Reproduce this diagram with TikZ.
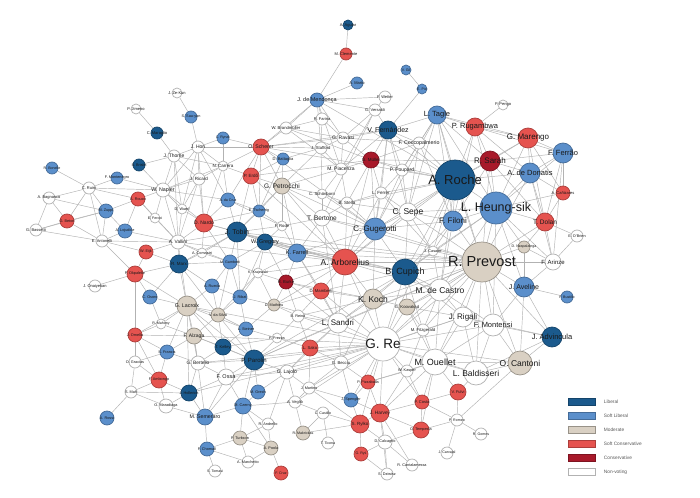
\documentclass[tikz,border=0pt]{standalone}
\usepackage{fontspec}
\setmainfont{Liberation Sans}

\definecolor{libc}{HTML}{1B5A8D}
\definecolor{slibc}{HTML}{5B8FCB}
\definecolor{modc}{HTML}{D9D0C3}
\definecolor{sconc}{HTML}{E5534F}
\definecolor{conc}{HTML}{A8192A}
\definecolor{linkc}{HTML}{B2B2B2}

\pgfdeclarelayer{background}
\pgfdeclarelayer{front}
\pgfsetlayers{background,main,front}

\tikzset{
    vtx/.style={circle, inner sep=0pt, line width=0.7pt},
    liberal/.style={vtx, fill=libc, draw=libc!75!black},
    softlib/.style={vtx, fill=slibc, draw=slibc!75!black},
    moderate/.style={vtx, fill=modc, draw=modc!70!black},
    softcon/.style={vtx, fill=sconc, draw=sconc!75!black},
    conserv/.style={vtx, fill=conc, draw=conc!75!black},
    nonvote/.style={vtx, fill=white, draw=black!30},
    lbl/.style={inner sep=0pt, text=black!90},
    link/.style={draw=linkc, line width=0.45pt},
}

% name, x, y, class, diameter, font size, label
\newcommand{\card}[7]{%
    \node[#4, minimum size=#5pt] (#1) at (#2,#3) {};
    \begin{pgfonlayer}{front}
        \node[lbl, font=\fontsize{#6}{#6}\selectfont] (#1t) at (#1) {#7};
    \end{pgfonlayer}}

\begin{document}
\begin{tikzpicture}[x=1pt, y=-1pt]
    \useasboundingbox (0,0) rectangle (700,497);

    % top
    \card{aguiar}{348}{25}{liberal}{10}{4}{A. Aguiar}
    \card{clemente}{346}{54}{softcon}{12}{4}{M. Clemente}
    \card{marto}{357}{83}{softlib}{12}{4}{A. Marto}
    \card{mendonca}{317}{100}{softlib}{14}{5.5}{J. de Mendonça}
    \card{vgil}{406}{70}{softlib}{10}{3.6}{V. Gil}
    \card{epio}{422}{89}{softlib}{10}{3.6}{E. Pio}
    \card{wetter}{385}{97}{nonvote}{12}{4}{F. Wetter}
    \card{versaldi}{375}{110}{nonvote}{12}{4}{G. Versaldi}
    \card{farina}{322}{119}{nonvote}{12}{4}{R. Farina}
    \card{brandmuller}{286}{128}{nonvote}{12}{4.2}{W. Brandmüller}
    \card{vfernandez}{388}{130}{liberal}{18}{7}{V. Fernández}
    \card{tagle}{437}{115}{softlib}{18}{7.5}{L. Tagle}
    \card{pengo}{503}{105}{nonvote}{10}{4}{P. Pengo}
    \card{rugambwa}{475}{127}{softcon}{18}{7.5}{P. Rugambwa}
    \card{marengo}{528}{138}{softcon}{20}{8}{G. Marengo}
    \card{ferrao}{563}{153}{softlib}{20}{7.5}{F. Ferrão}
    \card{sarah}{490}{161}{conserv}{20}{8}{R. Sarah}
    \card{ravasi}{343}{138}{nonvote}{12}{5}{G. Ravasi}
    \card{coccopalmerio}{419}{143}{nonvote}{12}{5.3}{F. Coccopalmerio}
    \card{stafford}{321}{148}{nonvote}{12}{4.2}{J. Stafford}
    \card{scherer}{261}{147}{softcon}{16}{5.2}{O. Scherer}
    \card{battaglia}{283}{159}{softlib}{12}{4}{D. Battaglia}
    \card{muller}{371}{160}{conserv}{16}{4.5}{G. Müller}
    \card{piacenza}{341}{169}{nonvote}{12}{5}{M. Piacenza}
    \card{poupard}{402}{170}{nonvote}{12}{5}{P. Poupard}

    % right hubs
    \card{roche}{455}{180}{liberal}{40}{13}{A. Roche}
    \card{heungsik}{496}{208}{softlib}{32}{12.5}{L. Heung-sik}
    \card{dedonatis}{530}{173}{softlib}{20}{7.5}{A. de Donatis}
    \card{canizares}{563}{193}{softcon}{14}{4}{A. Cañizares}
    \card{dolan}{545}{222}{softcon}{18}{6.5}{T. Dolan}
    \card{obrien}{577}{236}{nonvote}{12}{3.8}{E. O'Brien}
    \card{nzapalainga}{524}{247}{moderate}{12}{3.6}{D. Nzapalainga}
    \card{prevost}{482}{262}{moderate}{40}{14.5}{R. Prevost}
    \card{arinze}{553}{262}{nonvote}{16}{6}{F. Arinze}
    \card{aveline}{524}{287}{softlib}{20}{7}{J. Aveline}
    \card{bustillo}{567}{297}{softlib}{12}{3.6}{F. Bustillo}
    \card{monterisi}{493}{325}{nonvote}{22}{7.5}{F. Monterisi}
    \card{advincula}{552}{337}{liberal}{20}{7.5}{J. Advincula}
    \card{rigali}{463}{317}{nonvote}{20}{8}{J. Rigali}
    \card{cantoni}{520}{363}{moderate}{24}{8.5}{O. Cantoni}
    \card{baldisseri}{476}{373}{nonvote}{24}{8.5}{L. Baldisseri}
    \card{ouellet}{435}{362}{nonvote}{26}{9}{M. Ouellet}
    \card{re}{383}{344}{nonvote}{34}{13.5}{G. Re}
    \card{fitzgerald}{423}{330}{nonvote}{12}{4.2}{M. Fitzgerald}
    \card{decastro}{440}{290}{nonvote}{22}{8.5}{M. de Castro}
    \card{koovakad}{407}{307}{moderate}{16}{4.2}{G. Koovakad}
    \card{koch}{373}{299}{moderate}{20}{8.5}{K. Koch}
    \card{sandri}{338}{323}{nonvote}{20}{8}{L. Sandri}
    \card{cupich}{405}{272}{liberal}{26}{9}{B. Cupich}
    \card{casado}{433}{251}{nonvote}{10}{3.8}{J. Casado}
    \card{arborelius}{345}{262}{softcon}{26}{8.5}{A. Arborelius}
    \card{gugerotti}{375}{229}{softlib}{22}{8}{C. Gugerotti}
    \card{sepe}{408}{212}{nonvote}{18}{8.5}{C. Sepe}
    \card{filoni}{453}{221}{softlib}{20}{8}{F. Filoni}
    \card{bertone}{322}{218}{nonvote}{16}{6.5}{T. Bertone}
    \card{stella}{347}{203}{nonvote}{12}{4.5}{B. Stella}
    \card{ferrer}{381}{193}{nonvote}{12}{4.5}{L. Ferrer}
    \card{schonborn}{322}{194}{nonvote}{10}{4.2}{C. Schönborn}
    \card{petrocchi}{282}{186}{moderate}{16}{6.5}{G. Petrocchi}
    \card{erdo}{251}{176}{softcon}{16}{4.5}{P. Erdő}
    \card{tscherrig}{259}{211}{softlib}{12}{3.8}{E. Tscherrig}
    \card{rode}{282}{226}{nonvote}{10}{4.2}{F. Rodé}
    \card{tobin}{237}{232}{liberal}{20}{7}{J. Tobin}
    \card{gregory}{265}{242}{liberal}{16}{5.5}{W. Gregory}
    \card{farrell}{297}{253}{softlib}{18}{5.5}{K. Farrell}
    \card{krajewski}{258}{273}{nonvote}{10}{3.6}{K. Krajewski}
    \card{burke}{286}{282}{conserv}{14}{4.2}{R. Burke}
    \card{mamberti}{321}{291}{softcon}{16}{4.2}{D. Mamberti}
    \card{mathieu}{274}{305}{moderate}{12}{3.8}{D. Mathieu}
    \card{reina}{298}{316}{nonvote}{12}{3.8}{B. Reina}
    \card{frezza}{277}{338}{nonvote}{10}{3.8}{F. Frezza}

    % bottom centre
    \card{sako}{310}{348}{softcon}{16}{4.2}{L. Sako}
    \card{becciu}{341}{363}{nonvote}{14}{4.2}{G. Becciu}
    \card{kasper}{407}{371}{nonvote}{12}{3.8}{W. Kasper}
    \card{pizzaballa}{368}{382}{softcon}{14}{3.8}{P. Pizzaballa}
    \card{martins}{309}{388}{nonvote}{12}{3.8}{J. Martins}
    \card{vfulvi}{458}{392}{softcon}{16}{4}{V. Fulvi}
    \card{spengler}{351}{400}{softlib}{14}{3.8}{J. Spengler}
    \card{costa}{422}{402}{softcon}{14}{4}{P. Costa}
    \card{veglio}{295}{402}{nonvote}{12}{4}{A. Vegliò}
    \card{harvey}{380}{413}{softcon}{18}{4.8}{J. Harvey}
    \card{castillo}{323}{413}{nonvote}{12}{3.6}{C. Castillo}
    \card{romeo}{457}{420}{nonvote}{12}{3.6}{P. Romeo}
    \card{rylko}{360}{424}{softcon}{18}{4.5}{S. Ryłko}
    \card{tempesta}{421}{430}{softcon}{16}{3.8}{O. Tempesta}
    \card{makrickas}{303}{433}{moderate}{14}{3.6}{R. Makrickas}
    \card{gomes}{481}{434}{nonvote}{12}{3.6}{R. Gomes}
    \card{ticona}{328}{443}{nonvote}{12}{3.6}{T. Ticona}
    \card{calcagno}{385}{442}{nonvote}{14}{3.8}{D. Calcagno}
    \card{carvajal}{447}{453}{nonvote}{12}{3.6}{J. Carvajal}
    \card{rys}{361}{454}{softcon}{14}{3.6}{G. Ryś}
    \card{cantalamessa}{412}{465}{nonvote}{12}{3.8}{R. Cantalamessa}
    \card{dziwisz}{387}{474}{nonvote}{12}{3.8}{S. Dziwisz}

    % left
    \card{zekun}{177}{93}{nonvote}{10}{4}{J. Ze-Kun}
    \card{jimeno}{136}{109}{nonvote}{10}{4}{P. Jimeno}
    \card{sauyan}{191}{117}{softlib}{12}{3.8}{S. Sau-yan}
    \card{maraglio}{157}{133}{liberal}{12}{4}{C. Maraglio}
    \card{rynat}{223}{138}{softlib}{12}{3.6}{L. Rynat}
    \card{hon}{198}{147}{nonvote}{12}{5}{J. Hon}
    \card{thome}{174}{156}{nonvote}{12}{5}{J. Thome}
    \card{bonelle}{52}{168}{softlib}{12}{3.6}{R. Bonelle}
    \card{brislin}{139}{165}{liberal}{12}{3.8}{S. Brislin}
    \card{carrera}{223}{166}{nonvote}{10}{4.5}{N. Carrera}
    \card{ricard}{199}{179}{nonvote}{12}{4.5}{J. Ricard}
    \card{montenegro}{117}{178}{softlib}{12}{3.8}{F. Montenegro}
    \card{ruini}{89}{188}{nonvote}{12}{4}{C. Ruini}
    \card{napier}{163}{190}{nonvote}{14}{5.3}{W. Napier}
    \card{bagnasco}{49}{198}{nonvote}{12}{4}{A. Bagnasco}
    \card{rouco}{138}{199}{softcon}{14}{3.8}{A. Rouco}
    \card{dacruz}{228}{200}{softlib}{14}{3.6}{A. da Cruz}
    \card{zuppi}{106}{211}{softlib}{14}{3.8}{M. Zuppi}
    \card{wuerl}{182}{209}{nonvote}{10}{3.8}{D. Wuerl}
    \card{feroci}{155}{218}{nonvote}{10}{3.6}{E. Feroci}
    \card{betori}{67}{221}{softcon}{14}{3.8}{G. Betori}
    \card{dinardo}{204}{223}{softcon}{18}{5}{D. Nardo}
    \card{bassetti}{36}{230}{nonvote}{12}{4}{G. Bassetti}
    \card{lojudice}{125}{231}{softlib}{14}{3.8}{A. Lojudice}
    \card{antonelli}{102}{241}{nonvote}{12}{4}{E. Antonelli}
    \card{vallini}{178}{242}{nonvote}{14}{4.8}{A. Vallini}
    \card{eijk}{146}{252}{softcon}{14}{3.8}{W. Eijk}
    \card{comastri}{202}{253}{nonvote}{10}{3.8}{A. Comastri}
    \card{marx}{179}{264}{liberal}{18}{4.5}{R. Marx}
    \card{gambetti}{230}{262}{softlib}{14}{3.6}{M. Gambetti}
    \card{okpaleke}{135}{274}{softcon}{16}{3.8}{P. Okpaleke}
    \card{onaiyekan}{95}{286}{nonvote}{12}{4}{J. Onaiyekan}
    \card{rueda}{212}{286}{softlib}{14}{3.8}{A. Rueda}
    \card{osoro}{150}{297}{softlib}{14}{3.8}{C. Osoro}
    \card{ribat}{240}{297}{softlib}{14}{3.8}{J. Ribat}
    \card{lacroix}{187}{306}{moderate}{20}{5.3}{G. Lacroix}
    \card{dasilva}{218}{315}{moderate}{14}{3.8}{V. da Silva}
    \card{mahony}{161}{324}{nonvote}{10}{3.6}{R. Mahony}
    \card{steiner}{246}{329}{softlib}{14}{3.8}{L. Steiner}
    \card{omella}{135}{335}{softcon}{14}{3.8}{J. Omella}
    \card{alzaga}{194}{336}{moderate}{16}{5}{F. Alzaga}
    \card{kelley}{223}{347}{liberal}{16}{4}{T. Kelley}
    \card{francis}{167}{352}{softlib}{14}{3.8}{S. Francis}
    \card{gracias}{135}{362}{nonvote}{12}{3.8}{O. Gracias}
    \card{bertello}{198}{363}{nonvote}{14}{4.8}{G. Bertello}
    \card{parolin}{254}{360}{liberal}{20}{6}{P. Parolin}
    \card{ambongo}{159}{380}{softcon}{16}{3.8}{F. Ambongo}
    \card{ossa}{226}{377}{nonvote}{16}{5.5}{F. Ossa}
    \card{lajolo}{287}{372}{nonvote}{14}{5}{G. Lajolo}
    \card{mafi}{131}{392}{nonvote}{12}{3.8}{S. Mafi}
    \card{hollerich}{189}{393}{liberal}{16}{3.8}{J. Hollerich}
    \card{grech}{258}{392}{softlib}{14}{3.8}{M. Grech}
    \card{maradiaga}{166}{406}{nonvote}{14}{3.8}{O. Maradiaga}
    \card{czerny}{243}{406}{softlib}{16}{3.8}{M. Czerny}
    \card{semeraro}{205}{417}{softlib}{16}{5.3}{M. Semeraro}
    \card{rossi}{107}{418}{softlib}{14}{3.8}{A. Rossi}
    \card{andrello}{268}{424}{nonvote}{12}{3.8}{R. Andrello}
    \card{turkson}{240}{438}{moderate}{14}{3.8}{P. Turkson}
    \card{poola}{271}{448}{moderate}{14}{3.8}{A. Poola}
    \card{chomali}{207}{449}{softlib}{14}{3.8}{F. Chomalí}
    \card{marchetto}{248}{462}{nonvote}{12}{3.8}{A. Marchetto}
    \card{tomasi}{215}{471}{nonvote}{12}{3.6}{S. Tomasi}
    \card{cruz}{281}{473}{softcon}{14}{3.6}{F. Cruz}

    % links
    \begin{pgfonlayer}{background}
        \fill[white] (0,0) rectangle (700,497);
        \foreach \a/\b in {aguiar/clemente, clemente/mendonca, marto/mendonca, mendonca/farina, mendonca/versaldi, mendonca/brandmuller, mendonca/stafford, mendonca/ravasi, mendonca/scherer, mendonca/wetter, mendonca/piacenza, mendonca/roche, vgil/epio, epio/vfernandez, wetter/versaldi, versaldi/ravasi, versaldi/vfernandez, versaldi/piacenza, versaldi/bertone, farina/stafford, farina/ravasi, farina/brandmuller, brandmuller/ravasi, brandmuller/scherer, brandmuller/piacenza, brandmuller/muller, ravasi/stafford, ravasi/muller, ravasi/piacenza, ravasi/coccopalmerio, ravasi/vfernandez, stafford/piacenza, stafford/schonborn, stafford/scherer,
            vfernandez/tagle, vfernandez/muller, vfernandez/coccopalmerio, vfernandez/poupard, vfernandez/ferrer, vfernandez/sepe, vfernandez/roche, vfernandez/gugerotti, vfernandez/piacenza, vfernandez/scherer, tagle/rugambwa, tagle/coccopalmerio, tagle/sepe, tagle/filoni, tagle/roche, tagle/heungsik, tagle/marengo, tagle/sarah, tagle/prevost, tagle/poupard, tagle/gugerotti, pengo/rugambwa, rugambwa/marengo, rugambwa/sarah, rugambwa/ferrao, rugambwa/roche, rugambwa/heungsik, rugambwa/dedonatis, rugambwa/filoni, marengo/ferrao, marengo/sarah, marengo/dedonatis, marengo/roche, marengo/heungsik, marengo/canizares, marengo/dolan, ferrao/dedonatis, ferrao/canizares, ferrao/heungsik, ferrao/sarah, ferrao/dolan, ferrao/arinze, sarah/dedonatis, sarah/dolan, sarah/roche, sarah/heungsik, sarah/filoni, sarah/prevost, dedonatis/canizares, dedonatis/dolan, dedonatis/heungsik, dedonatis/roche, dedonatis/prevost, dedonatis/arinze, canizares/dolan, canizares/heungsik, dolan/obrien, dolan/heungsik, dolan/prevost, dolan/arinze, dolan/nzapalainga, obrien/arinze, arinze/nzapalainga, arinze/aveline, arinze/prevost, arinze/heungsik, aveline/bustillo, aveline/advincula, aveline/monterisi, aveline/prevost, aveline/heungsik, aveline/cantoni, aveline/nzapalainga, advincula/monterisi, advincula/cantoni, advincula/baldisseri, advincula/prevost, advincula/rigali, cantoni/monterisi, cantoni/baldisseri, cantoni/romeo, cantoni/ouellet, cantoni/prevost, baldisseri/monterisi, baldisseri/vfulvi, baldisseri/ouellet, baldisseri/re, baldisseri/rigali, baldisseri/prevost, monterisi/rigali, monterisi/prevost, monterisi/ouellet, monterisi/decastro,
            roche/heungsik, roche/prevost, roche/filoni, roche/sepe, roche/coccopalmerio, roche/poupard, roche/ferrer, roche/cupich, roche/gugerotti, roche/muller, roche/arborelius, roche/decastro, roche/stella, roche/casado, roche/re, roche/scherer, heungsik/prevost, heungsik/filoni, heungsik/cupich, heungsik/casado, heungsik/monterisi, heungsik/nzapalainga, heungsik/decastro, heungsik/sepe, prevost/cupich, prevost/decastro, prevost/rigali, prevost/nzapalainga, prevost/sepe, prevost/filoni, prevost/casado, prevost/koch, prevost/re, prevost/ouellet, prevost/gugerotti, prevost/arborelius, prevost/koovakad, prevost/fitzgerald, prevost/sandri, prevost/farrell, prevost/tobin, prevost/parolin, prevost/bertone, prevost/gregory,
            filoni/sepe, filoni/casado, filoni/cupich, filoni/coccopalmerio, filoni/gugerotti, filoni/decastro, sepe/gugerotti, sepe/ferrer, sepe/poupard, sepe/cupich, sepe/casado, sepe/stella, sepe/coccopalmerio, gugerotti/ferrer, gugerotti/stella, gugerotti/bertone, gugerotti/koch, gugerotti/poupard, gugerotti/muller, gugerotti/farrell, gugerotti/cupich, gugerotti/arborelius, gugerotti/schonborn, gugerotti/petrocchi, muller/piacenza, muller/poupard, muller/ferrer, muller/coccopalmerio, muller/stella, muller/erdo, muller/arborelius, muller/sarah, poupard/ferrer, poupard/coccopalmerio, piacenza/stella, piacenza/schonborn, piacenza/petrocchi, ferrer/stella, ferrer/casado, stella/bertone, stella/schonborn, schonborn/bertone, schonborn/petrocchi, bertone/petrocchi, bertone/rode, bertone/arborelius, bertone/farrell, bertone/sandri,
            arborelius/cupich, arborelius/koch, arborelius/farrell, arborelius/sandri, arborelius/gregory, arborelius/tobin, arborelius/burke, arborelius/mamberti, arborelius/krajewski, arborelius/petrocchi, arborelius/erdo, arborelius/sepe, arborelius/stella, arborelius/mathieu, arborelius/ferrer, arborelius/re, arborelius/decastro, arborelius/vallini, arborelius/dinardo,
            cupich/koch, cupich/decastro, cupich/casado, cupich/koovakad, cupich/tobin, cupich/gregory, cupich/farrell, cupich/sandri, cupich/rigali, cupich/fitzgerald, cupich/re, cupich/parolin, cupich/mamberti,
            decastro/koovakad, decastro/casado, decastro/rigali, decastro/koch, decastro/re, decastro/ouellet, decastro/fitzgerald, rigali/ouellet, rigali/re, rigali/koovakad, rigali/fitzgerald, koovakad/koch, koovakad/re, koovakad/fitzgerald, koovakad/ouellet, koch/sandri, koch/mamberti, koch/re, koch/reina, koch/becciu, koch/burke, sandri/mamberti, sandri/reina, sandri/burke, sandri/becciu, sandri/sako, sandri/re, sandri/mathieu, sandri/parolin, sandri/lajolo, sandri/farrell,
            re/ouellet, re/pizzaballa, re/harvey, re/kasper, re/becciu, re/sako, re/fitzgerald, re/cantoni, re/spengler, re/martins, re/lajolo, re/rylko, re/costa, re/parolin, re/veglio, re/mamberti, re/reina, re/monterisi, re/lacroix, re/alzaga, re/hollerich, re/bertello, re/ossa,
            ouellet/kasper, ouellet/costa, ouellet/harvey, ouellet/vfulvi, ouellet/fitzgerald, ouellet/tempesta, ouellet/pizzaballa, kasper/costa, kasper/harvey, kasper/pizzaballa, fitzgerald/kasper, vfulvi/costa, vfulvi/romeo,
            mamberti/burke, mamberti/mathieu, mamberti/reina, mamberti/farrell, burke/krajewski, burke/farrell, burke/gregory, burke/mathieu, burke/reina, mathieu/reina, mathieu/krajewski, mathieu/steiner, reina/frezza, reina/sako, frezza/steiner, frezza/sako, frezza/parolin, frezza/kelley,
            sako/becciu, sako/lajolo, sako/martins, becciu/martins, becciu/spengler, becciu/pizzaballa, becciu/lajolo, pizzaballa/harvey, pizzaballa/spengler, spengler/harvey, spengler/martins, spengler/rylko, harvey/rylko, harvey/calcagno, harvey/cantalamessa, harvey/dziwisz, harvey/costa, harvey/tempesta, costa/tempesta, costa/romeo, tempesta/calcagno, tempesta/romeo, romeo/gomes, romeo/carvajal, rylko/rys, rylko/makrickas, rylko/castillo, rylko/calcagno, rylko/martins, makrickas/veglio, makrickas/castillo, castillo/ticona, castillo/veglio, rys/dziwisz, rys/calcagno, calcagno/dziwisz, calcagno/cantalamessa, veglio/lajolo, veglio/martins, veglio/czerny, martins/lajolo,
            petrocchi/erdo, petrocchi/rode, petrocchi/tscherrig, petrocchi/battaglia, petrocchi/stafford, petrocchi/scherer, petrocchi/tobin, petrocchi/farrell, erdo/scherer, erdo/tscherrig, erdo/carrera, erdo/battaglia, erdo/tobin, scherer/battaglia, scherer/dacruz, scherer/tscherrig, scherer/carrera, scherer/rynat, scherer/hon, scherer/ravasi, scherer/gugerotti, battaglia/stafford, battaglia/tscherrig,
            tscherrig/tobin, tscherrig/rode, tscherrig/gregory, rode/tobin, rode/gregory, rode/farrell, tobin/gregory, tobin/dacruz, tobin/farrell, tobin/gambetti, tobin/ribat, tobin/dinardo, tobin/comastri, tobin/vallini, tobin/marx, gregory/farrell, gregory/krajewski, gregory/gambetti, gregory/ribat, farrell/krajewski, krajewski/gambetti, krajewski/ribat, krajewski/dasilva,
            hon/thome, hon/sauyan, hon/carrera, hon/ricard, hon/napier, hon/rynat, hon/dinardo, hon/wuerl, hon/dacruz, zekun/sauyan, jimeno/maraglio, maraglio/thome, thome/napier, thome/ricard, thome/carrera, thome/vallini, thome/wuerl, brislin/napier, brislin/thome, carrera/ricard, carrera/dacruz, carrera/dinardo, carrera/napier, ricard/napier, ricard/dinardo, ricard/wuerl, ricard/vallini, rynat/carrera,
            bonelle/ruini, montenegro/ruini, montenegro/napier, ruini/bagnasco, ruini/betori, ruini/zuppi, ruini/napier, ruini/antonelli, ruini/rouco, bagnasco/betori, bagnasco/bassetti, bagnasco/zuppi, bassetti/betori, bassetti/antonelli, bassetti/zuppi, zuppi/betori, zuppi/rouco, zuppi/antonelli, zuppi/lojudice, antonelli/vallini, antonelli/eijk, antonelli/betori, antonelli/lojudice, antonelli/okpaleke, rouco/lojudice, rouco/napier, rouco/feroci, rouco/vallini, napier/feroci, napier/wuerl, napier/vallini, napier/dinardo, napier/dacruz, wuerl/dinardo, wuerl/vallini, feroci/vallini, lojudice/vallini, vallini/comastri, vallini/marx, vallini/dinardo, vallini/eijk, vallini/gambetti, vallini/lacroix, dinardo/dacruz, dinardo/comastri, dinardo/tscherrig, dinardo/gambetti, dacruz/tscherrig, dacruz/rode, comastri/marx, comastri/gambetti,
            eijk/okpaleke, eijk/marx, okpaleke/onaiyekan, okpaleke/osoro, okpaleke/marx, okpaleke/lacroix, okpaleke/omella, marx/lacroix, marx/gambetti, marx/rueda, marx/dasilva, marx/osoro, gambetti/rueda, gambetti/ribat, gambetti/dasilva, rueda/lacroix, rueda/dasilva, rueda/ribat, ribat/dasilva, ribat/steiner, ribat/mathieu, osoro/lacroix, osoro/mahony, lacroix/dasilva, lacroix/mahony, lacroix/alzaga, lacroix/omella, lacroix/bertello, lacroix/steiner, lacroix/francis, lacroix/kelley, lacroix/hollerich, lacroix/parolin, dasilva/steiner, dasilva/alzaga, dasilva/kelley, dasilva/parolin, mahony/omella, mahony/alzaga, steiner/kelley, steiner/parolin,
            omella/alzaga, omella/francis, omella/gracias, omella/ambongo, alzaga/kelley, alzaga/bertello, alzaga/francis, alzaga/semeraro, alzaga/parolin, kelley/parolin, kelley/ossa, kelley/bertello, francis/gracias, francis/ambongo, francis/bertello, gracias/ambongo, gracias/mafi, bertello/ossa, bertello/hollerich, bertello/parolin, parolin/ossa, parolin/czerny, parolin/grech, parolin/lajolo, parolin/semeraro, ambongo/hollerich, ambongo/maradiaga, ambongo/mafi, ossa/semeraro, ossa/hollerich, ossa/lajolo, ossa/czerny, lajolo/grech, rossi/mafi, mafi/maradiaga, mafi/hollerich, maradiaga/semeraro, maradiaga/hollerich, semeraro/hollerich, semeraro/czerny, grech/czerny, czerny/turkson, czerny/andrello, czerny/poola, turkson/poola, turkson/chomali, turkson/marchetto, turkson/andrello, chomali/tomasi, chomali/marchetto, poola/cruz, poola/marchetto, poola/andrello, andrello/lajolo, semeraro/chomali}
            \draw[link] (\a) -- (\b);
    \end{pgfonlayer}

    % legend
    \foreach \s/\t [count=\i] in {liberal/Liberal, softlib/Soft Liberal, moderate/Moderate, softcon/Soft Conservative, conserv/Conservative, nonvote/Non-voting}{
        \node[\s, rectangle, minimum width=27pt, minimum height=7pt, line width=0.4pt] (leg\i) at (582,388+14*\i) {};
        \node[anchor=west, inner sep=0pt, text=black!65, font=\fontsize{4.8}{4.8}\selectfont] (legt\i) at ([xshift=8pt]leg\i.east) {\t};
    }
\end{tikzpicture}
\end{document}
